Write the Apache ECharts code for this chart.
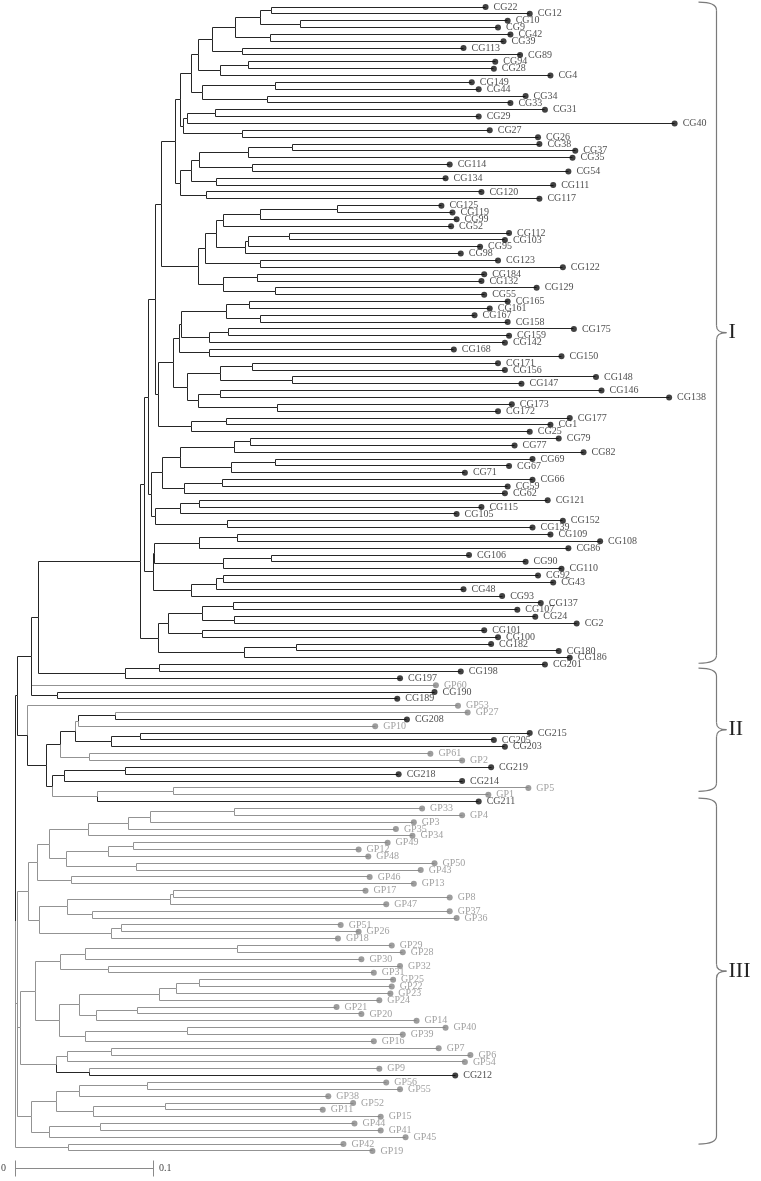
<!DOCTYPE html>
<html><head><meta charset="utf-8">
<script src="https://cdn.jsdelivr.net/npm/echarts@6/dist/echarts.min.js"></script>
<style>html,body{margin:0;padding:0;background:#fff}#c{width:761px;height:1181px}</style>
</head><body><div id="c"></div>
<script>
const leafNames = ["CG22","CG12","CG10","CG9","CG42","CG39","CG113","CG89","CG94","CG28",
"CG4","CG149","CG44","CG34","CG33","CG31","CG29","CG40","CG27","CG26",
"CG38","CG37","CG35","CG114","CG54","CG134","CG111","CG120","CG117","CG125",
"CG119","CG99","CG52","CG112","CG103","CG95","CG98","CG123","CG122","CG184",
"CG132","CG129","CG55","CG165","CG161","CG167","CG158","CG175","CG159","CG142",
"CG168","CG150","CG171","CG156","CG148","CG147","CG146","CG138","CG173","CG172",
"CG177","CG1","CG25","CG79","CG77","CG82","CG69","CG67","CG71","CG66",
"CG59","CG62","CG121","CG115","CG105","CG152","CG139","CG109","CG108","CG86",
"CG106","CG90","CG110","CG92","CG43","CG48","CG93","CG137","CG107","CG24",
"CG2","CG101","CG100","CG182","CG180","CG186","CG201","CG198","CG197","GP60",
"CG190","CG189","GP53","GP27","CG208","GP10","CG215","CG205","CG203","GP61",
"GP2","CG219","CG218","CG214","GP5","GP1","CG211","GP33","GP4","GP3",
"GP35","GP34","GP49","GP12","GP48","GP50","GP43","GP46","GP13","GP17",
"GP8","GP47","GP37","GP36","GP51","GP26","GP18","GP29","GP28","GP30",
"GP32","GP31","GP25","GP22","GP23","GP24","GP21","GP20","GP14","GP40",
"GP39","GP16","GP7","GP6","GP54","GP9","CG212","GP56","GP55","GP38",
"GP52","GP11","GP15","GP44","GP41","GP45","GP42","GP19"];

const leafDist = [.341,.373,.357,.350,.359,.354,.325,.366,.348,.347,
.388,.331,.336,.370,.359,.384,.336,.478,.344,.379,
.380,.406,.404,.315,.401,.312,.390,.338,.380,.309,
.317,.320,.316,.358,.355,.337,.323,.350,.397,.340,
.338,.378,.340,.357,.344,.333,.357,.405,.358,.355,
.318,.396,.350,.355,.421,.367,.425,.474,.360,.350,
.402,.388,.373,.394,.362,.412,.375,.358,.326,.375,
.357,.355,.386,.338,.320,.397,.375,.388,.424,.401,
.329,.370,.396,.379,.390,.325,.353,.381,.364,.377,
.407,.340,.350,.345,.394,.402,.384,.323,.279,.305,
.304,.277,.321,.328,.284,.261,.373,.347,.355,.301,
.324,.345,.278,.324,.372,.343,.336,.295,.324,.289,
.276,.288,.270,.249,.256,.304,.294,.257,.289,.254,
.315,.269,.315,.320,.236,.249,.234,.273,.281,.251,
.279,.260,.274,.273,.272,.264,.233,.251,.291,.312,
.281,.260,.307,.330,.326,.264,.319,.269,.279,.227,
.245,.223,.265,.246,.265,.283,.238,.259];

// clades: [first leaf, last leaf, node distance]
const clades = [
["CG22","CG12",.186],["CG10","CG9",.207],["CG22","CG9",.178],["CG42","CG39",.185],["CG22","CG39",.160],
["CG113","CG89",.165],["CG22","CG89",.143],["CG94","CG28",.169],["CG94","CG4",.149],["CG22","CG4",.133],
["CG149","CG44",.189],["CG34","CG33",.183],["CG149","CG33",.136],["CG22","CG33",.128],["CG31","CG29",.145],
["CG31","CG40",.125],["CG27","CG26",.165],["CG31","CG26",.122],["CG22","CG26",.120],
["CG38","CG37",.201],["CG38","CG35",.169],["CG114","CG54",.172],["CG38","CG54",.134],["CG134","CG111",.146],
["CG38","CG111",.128],["CG120","CG117",.139],["CG38","CG117",.120],["CG22","CG117",.116],
["CG125","CG119",.234],["CG125","CG99",.178],["CG125","CG52",.151],["CG112","CG103",.199],["CG112","CG95",.169],
["CG112","CG98",.167],["CG125","CG98",.146],["CG123","CG122",.178],["CG125","CG122",.138],["CG184","CG132",.176],
["CG129","CG55",.189],["CG184","CG55",.151],["CG125","CG55",.133],["CG22","CG55",.106],
["CG165","CG161",.170],["CG167","CG158",.178],["CG165","CG158",.153],["CG175","CG159",.155],["CG175","CG142",.141],
["CG165","CG142",.121],["CG168","CG150",.141],["CG165","CG150",.119],["CG171","CG156",.172],["CG148","CG147",.201],
["CG171","CG147",.149],["CG146","CG138",.149],["CG173","CG172",.190],["CG146","CG172",.133],["CG171","CG172",.125],
["CG165","CG172",.115],["CG177","CG1",.153],["CG177","CG25",.128],["CG165","CG25",.104],["CG22","CG25",.102],
["CG79","CG77",.171],["CG79","CG82",.159],["CG69","CG67",.189],["CG69","CG71",.157],["CG79","CG71",.120],
["CG66","CG59",.150],["CG66","CG62",.123],["CG79","CG62",.107],["CG121","CG115",.134],["CG121","CG105",.120],
["CG152","CG139",.154],["CG121","CG139",.102],["CG79","CG139",.099],["CG22","CG139",.097],
["CG109","CG108",.161],["CG109","CG86",.134],["CG106","CG90",.186],["CG106","CG110",.151],["CG109","CG110",.101],
["CG92","CG43",.151],["CG92","CG48",.146],["CG92","CG93",.128],["CG109","CG93",.100],["CG22","CG93",.094],
["CG137","CG107",.158],["CG24","CG2",.159],["CG137","CG2",.136],["CG101","CG100",.136],["CG137","CG100",.111],
["CG182","CG180",.204],["CG182","CG186",.166],["CG137","CG186",.104],["CG22","CG186",.091],
["CG201","CG198",.105],["CG201","CG197",.080],["CG22","CG197",.017],["CG190","CG189",.031],["CG22","CG189",.012],
["GP27","CG208",.073],["GP27","GP10",.046],["CG215","CG205",.091],["CG215","CG203",.070],["GP27","CG203",.044],
["GP61","GP2",.054],["GP27","GP2",.033],["CG219","CG218",.080],["CG219","CG214",.036],["GP5","GP1",.115],
["GP5","CG211",.060],["CG219","CG211",.027],["GP27","CG211",.023],["GP53","CG211",.009],["CG22","CG211",.002],
["GP33","GP4",.159],["GP33","GP3",.098],["GP33","GP35",.082],["GP33","GP34",.053],["GP49","GP12",.086],
["GP49","GP48",.068],["GP50","GP43",.088],["GP49","GP43",.037],["GP33","GP43",.025],["GP46","GP13",.041],
["GP33","GP13",.016],["GP17","GP8",.115],["GP17","GP47",.113],["GP37","GP36",.056],["GP17","GP36",.038],
["GP51","GP26",.077],["GP51","GP18",.070],["GP17","GP18",.018],["GP33","GP18",.010],
["GP29","GP28",.161],["GP29","GP30",.051],["GP32","GP31",.068],["GP29","GP31",.033],["GP25","GP22",.134],
["GP25","GP23",.117],["GP25","GP24",.105],["GP21","GP20",.089],["GP21","GP14",.059],["GP25","GP14",.047],
["GP40","GP39",.125],["GP40","GP16",.051],["GP25","GP16",.032],["GP29","GP16",.015],
["GP7","GP6",.070],["GP7","GP54",.038],["GP9","CG212",.054],["GP7","CG212",.030],["GP29","CG212",.004],
["GP56","GP55",.096],["GP56","GP38",.047],["GP52","GP11",.109],["GP52","GP15",.057],["GP56","GP15",.030],
["GP44","GP41",.062],["GP44","GP45",.025],["GP56","GP45",.012],["GP33","GP45",.002],["GP42","GP19",.039],
["CG22","GP19",0]
];

// cluster braces: [label, from row, to row]
const groups = [["I",-0.7,95.8],["II",96.5,114.5],["III",115.5,166]];
const scaleBar = [0, 0.1];
const scaleLabels = ["0", "0.1"];
const scaleRow = 169.6;

const DARK = '#262626', GRAY = '#939393';
const idx = {}; leafNames.forEach((s, i) => idx[s] = i);
const leaves = leafNames.map((s, i) => ({x: leafDist[i], y: i, cg: s.startsWith('CG') ? 1 : 0, gp: s.startsWith('GP') ? 1 : 0}));
const internal = clades.map(c => ({a: idx[c[0]], b: idx[c[1]], x: c[2]}))
  .sort((p, q) => (p.b - p.a) - (q.b - q.a));
const owner = leaves.slice();
internal.forEach(nd => {
  const kids = [];
  for (let i = nd.a; i <= nd.b; i++) { const o = owner[i]; if (kids[kids.length - 1] !== o) kids.push(o); }
  nd.kids = kids;
  nd.y = (kids[0].y + kids[kids.length - 1].y) / 2;
  nd.cg = kids.reduce((s, k) => s + k.cg, 0);
  nd.gp = kids.reduce((s, k) => s + k.gp, 0);
  for (let i = nd.a; i <= nd.b; i++) owner[i] = nd;
});
const segs = [];
internal.forEach(nd => nd.kids.forEach(k => {
  const dark = k.cg >= k.gp ? 1 : 0;
  segs.push([nd.x, nd.y, nd.x, k.y, dark]);
  segs.push([nd.x, k.y, k.x, k.y, dark]);
}));

const chart = echarts.init(document.getElementById('c'), null, {renderer: 'canvas'});
const px = v => Math.round(v - 0.5) + 0.5;

chart.setOption({
  animation: false,
  backgroundColor: '#fff',
  grid: {left: 15, top: 7, width: 690, height: 1164.5},
  xAxis: {type: 'value', min: 0, max: 0.5, show: false},
  yAxis: {type: 'value', min: 0, max: 170, inverse: true, show: false},
  series: [
    {
      type: 'custom', coordinateSystem: 'cartesian2d', silent: true,
      encode: {x: [0, 2], y: [1, 3]},
      data: segs,
      renderItem: (params, api) => {
        const p1 = api.coord([api.value(0), api.value(1)]);
        const p2 = api.coord([api.value(2), api.value(3)]);
        return {type: 'line', shape: {x1: px(p1[0]), y1: px(p1[1]), x2: px(p2[0]), y2: px(p2[1])},
          style: {stroke: api.value(4) ? DARK : GRAY, lineWidth: 1}};
      }
    },
    {
      type: 'scatter', silent: true, symbol: 'circle', symbolSize: 6,
      data: leafNames.map((s, i) => {
        const cg = s.startsWith('CG');
        return {value: [leafDist[i], i], name: s,
          itemStyle: {color: cg ? '#111' : '#858585'},
          label: {color: cg ? '#222' : '#888'}};
      }),
      label: {show: true, position: 'right', distance: 5, formatter: '{b}',
        fontFamily: 'Liberation Serif', fontSize: 10}
    },
    {
      type: 'custom', coordinateSystem: 'cartesian2d', silent: true,
      encode: {x: 0, y: [1, 2]},
      data: groups.map((g, i) => [i, g[1], g[2]]),
      renderItem: (params, api) => {
        const g = groups[params.dataIndex];
        const yT = api.coord([0, api.value(1)])[1];
        const yB = api.coord([0, api.value(2)])[1];
        const ym = (yT + yB) / 2;
        const x0 = api.getWidth() - 44.5;
        const st = {stroke: '#7a7a7a', lineWidth: 1.2, fill: null};
        return {type: 'group', children: [
          {type: 'bezierCurve', shape: {x1: x0 - 18, y1: yT, cpx1: x0, cpy1: yT, x2: x0, y2: yT + 8}, style: st},
          {type: 'line', shape: {x1: x0, y1: yT + 8, x2: x0, y2: ym - 7}, style: st},
          {type: 'bezierCurve', shape: {x1: x0, y1: ym - 7, cpx1: x0, cpy1: ym, x2: x0 + 10, y2: ym}, style: st},
          {type: 'bezierCurve', shape: {x1: x0 + 10, y1: ym, cpx1: x0, cpy1: ym, x2: x0, y2: ym + 7}, style: st},
          {type: 'line', shape: {x1: x0, y1: ym + 7, x2: x0, y2: yB - 8}, style: st},
          {type: 'bezierCurve', shape: {x1: x0, y1: yB - 8, cpx1: x0, cpy1: yB, x2: x0 - 18, y2: yB}, style: st},
          {type: 'text', x: x0 + 12, y: ym, style: {text: g[0], fill: '#222', font: '22px "Liberation Serif"',
            textAlign: 'left', textVerticalAlign: 'middle'}}
        ]};
      }
    },
    {
      type: 'custom', coordinateSystem: 'cartesian2d', silent: true,
      encode: {x: [0, 1], y: 2},
      data: [[scaleBar[0], scaleBar[1], scaleRow]],
      renderItem: (params, api) => {
        const a = api.coord([api.value(0), api.value(2)]);
        const b = api.coord([api.value(1), api.value(2)]);
        const y = px(a[1]);
        const st = {stroke: '#8a8a8a', lineWidth: 1};
        const ts = {fill: '#444', font: '10px "Liberation Serif"', textVerticalAlign: 'middle'};
        return {type: 'group', children: [
          {type: 'line', shape: {x1: px(a[0]), y1: y, x2: px(b[0]), y2: y}, style: st},
          {type: 'line', shape: {x1: px(a[0]), y1: y - 8, x2: px(a[0]), y2: y + 8}, style: st},
          {type: 'line', shape: {x1: px(b[0]), y1: y - 8, x2: px(b[0]), y2: y + 8}, style: st},
          {type: 'text', x: a[0] - 9, y: y, style: Object.assign({text: scaleLabels[0], textAlign: 'right'}, ts)},
          {type: 'text', x: b[0] + 6, y: y, style: Object.assign({text: scaleLabels[1], textAlign: 'left'}, ts)}
        ]};
      }
    }
  ]
});
</script></body></html>
